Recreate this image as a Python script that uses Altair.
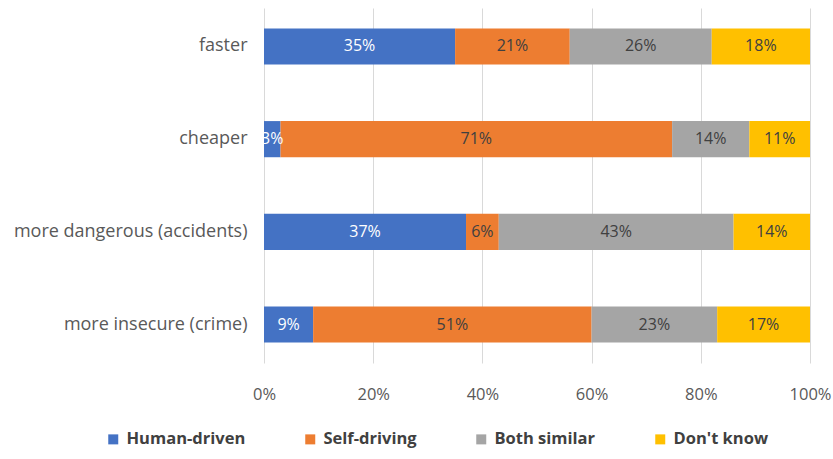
import altair as alt
import pandas as pd

categories = ["faster", "cheaper", "more dangerous (accidents)", "more insecure (crime)"]
series = ["Human-driven", "Self-driving", "Both similar", "Don't know"]
human_driven = [35, 3, 37, 9]
self_driving = [21, 71, 6, 51]
both_similar = [26, 14, 43, 23]
dont_know = [18, 11, 14, 17]
colors = ["#4472C4", "#ED7D31", "#A5A5A5", "#FFC000"]
x_ticks = [0, 0.2, 0.4, 0.6, 0.8, 1.0]

rows = []
for vals, s_i in zip([human_driven, self_driving, both_similar, dont_know], range(4)):
    for c, v in zip(categories, vals):
        rows.append({"category": c, "series": series[s_i], "order": s_i, "value": v,
                     "label": f"{v}%"})
df = pd.DataFrame(rows)

FONT = "Open Sans"

base = alt.Chart(df).transform_stack(
    stack="value", groupby=["category"], as_=["start", "end"],
    offset="normalize", sort=[alt.SortField("order", order="ascending")]
).transform_calculate(mid="(datum.start + datum.end) / 2")

y_enc = alt.Y("category:N", sort=categories, title=None,
              scale=alt.Scale(paddingInner=0.61, paddingOuter=0.22),
              axis=alt.Axis(ticks=False, domain=False, labelFontSize=18, labelColor="#595959",
                            labelPadding=17, labelFont=FONT, labelLimit=300))

bars = base.mark_bar().encode(
    x=alt.X("start:Q", scale=alt.Scale(domain=[0, 1], nice=False), title=None,
            axis=alt.Axis(format="%", values=x_ticks, ticks=False, domain=False,
                          gridColor="#D9D9D9", labelFontSize=16.5, labelColor="#595959",
                          labelPadding=23, labelFont=FONT, labelFlush=False)),
    x2="end:Q",
    y=y_enc,
    color=alt.Color("series:N", sort=series,
                    scale=alt.Scale(domain=series, range=colors),
                    legend=alt.Legend(title=None, orient="none", legendX=-159, legendY=423,
                                      direction="horizontal", columns=4, symbolType="square",
                                      symbolSize=100, labelFontSize=16.5, labelFontWeight="bold",
                                      labelColor="#404040", labelFont=FONT, columnPadding=56,
                                      symbolStrokeWidth=0, labelOffset=5)),
)

text = base.mark_text(fontSize=16, font=FONT).encode(
    x=alt.X("mid:Q"),
    y=alt.Y("category:N", sort=categories),
    text="label:N",
    color=alt.condition(alt.datum.series == "Human-driven", alt.value("white"), alt.value("#404040")),
)

chart = (bars + text).properties(
    width=546, height=355, autosize="none",
    padding={"left": 264, "top": 8, "right": 23, "bottom": 96},
).configure_view(stroke=None)

chart.save("out.html", embed_options={"renderer": "svg", "actions": False})
